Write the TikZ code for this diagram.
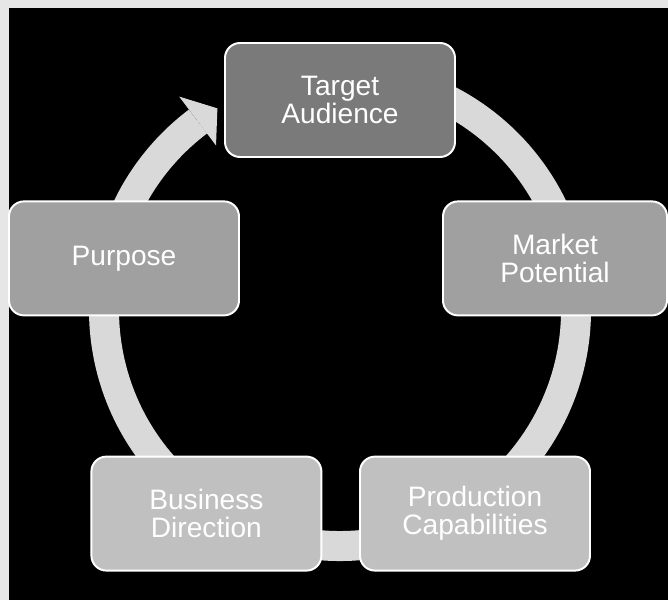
\documentclass[tikz,border=0pt]{standalone}
\usepackage{fontspec}
\setsansfont{Liberation Sans}

\definecolor{framegray}{HTML}{E6E6E6}
\definecolor{ringgray}{HTML}{D9D9D9}
\definecolor{darkstage}{HTML}{7A7A7A}
\definecolor{midstage}{HTML}{A0A0A0}
\definecolor{lightstage}{HTML}{C0C0C0}

\def\ringrad{5.9}

\begin{document}
\begin{tikzpicture}[font=\sffamily]
    \tikzstyle{stage}=[rectangle,rounded corners=0.375cm,draw=white,line width=1.4pt,minimum width=5.75cm,minimum height=2.85cm,inner sep=0pt,text=white,align=center,font=\sffamily\fontsize{20}{20}\selectfont]
    \tikzstyle{ring shaft}=[draw=ringgray,line width=0.75cm]

    \useasboundingbox (0,0) rectangle (16.7,15);
    \fill[framegray] (0,0) rectangle (16.7,15);
    \fill[black] (0.225,0) rectangle (16.7,14.8);

    % circular arrow behind the boxes
    \coordinate (ctr) at (8.5,7.25);
    \draw[ring shaft] ([shift={(100:\ringrad)}]ctr) arc[start angle=100,end angle=-233,radius=\ringrad];
    \fill[ringgray] ([shift={(127:6.68)}]ctr) -- ([shift={(121.3:\ringrad)}]ctr) -- ([shift={(127:5.15)}]ctr) -- cycle;

    \node[stage,fill=darkstage] (target) at (8.5,12.5) {Target\\Audience};
    \node[stage,fill=midstage,minimum width=5.6cm] (market) at (13.875,8.54) {Market\\Potential};
    \node[stage,fill=lightstage] (production) at (11.875,2.16) {Production\\Capabilities};
    \node[stage,fill=lightstage] (business) at (5.16,2.16) {Business\\Direction};
    \node[stage,fill=midstage] (purpose) at (3.1,8.54) {Purpose};
\end{tikzpicture}
\end{document}
